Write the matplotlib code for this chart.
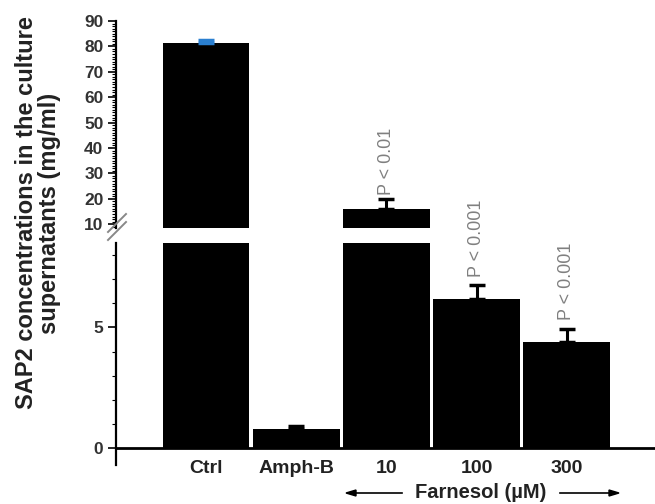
import matplotlib.pyplot as plt
import numpy as np

plt.rcParams["font.family"] = ["Liberation Sans", "DejaVu Sans"]

groups = ["Ctrl", "Amph-B", "10", "100", "300"]
means = [81.3, 0.8, 16.0, 6.2, 4.4]
errs = [1.2, 0.13, 4.0, 0.55, 0.55]
err_colors = ["#2a7fd0", "black", "black", "black", "black"]
pvals = ["", "", "P < 0.01", "P < 0.001", "P < 0.001"]

W, H = 655, 504
fig = plt.figure(figsize=(W / 100, H / 100), dpi=100)

def px_axes(x0, y_top, x1, y_bot):
    return fig.add_axes([x0 / W, 1 - y_bot / H, (x1 - x0) / W, (y_bot - y_top) / H])

ax_hi = px_axes(116, 21, 655, 227.5)
ax_lo = px_axes(116, 243, 655, 465)

x = np.arange(len(groups))
for ax in (ax_hi, ax_lo):
    ax.bar(x, means, width=0.96, color="black", zorder=2)
    ax.set_xlim(-1, 4.98)
    for s in ("top", "right", "bottom"):
        ax.spines[s].set_visible(False)
    ax.spines["left"].set_linewidth(1.6)
    ax.tick_params(axis="y", direction="out", length=6, width=1.2, labelsize=12.5, pad=3)
    ax.tick_params(axis="y", which="minor", direction="out", length=3, width=0.8)
    ax.set_xticks([])

ax_hi.set_ylim(8.7, 90)
ax_hi.set_yticks(np.arange(10, 91, 10))
ax_hi.set_yticks(np.arange(9, 91, 1), minor=True)
ax_lo.set_ylim(-0.7, 8.5)
ax_lo.set_yticks([0, 5])
ax_lo.set_yticks(np.arange(0, 9, 1), minor=True)
for ax in (ax_hi, ax_lo):
    for lab in ax.get_yticklabels():
        lab.set_fontweight("bold")
        lab.set_color("#333333")

# error bars (upper side only)
for i in range(len(groups)):
    target = ax_hi if means[i] > 8.5 else ax_lo
    target.errorbar(x[i], means[i], yerr=[[0], [errs[i]]], fmt="none",
                    ecolor=err_colors[i], elinewidth=2.2, capsize=6, capthick=2.5, zorder=3)
    if pvals[i]:
        target.text(x[i], means[i] + errs[i] + (1.5 if target is ax_hi else 0.35), pvals[i],
                    rotation=90, ha="center", va="bottom", color="#808080", fontsize=13)

# baseline
ax_lo.axhline(0, color="black", lw=2, zorder=4)

# axis break marks
for dy in (0, 8):
    fig.add_artist(plt.Line2D([108 / W, 126 / W], [1 - (240 + dy - 8) / H, 1 - (222 + dy - 8) / H],
                              color="#888888", lw=1.4))

# category labels
for i, g in enumerate(groups):
    ax_lo.text(x[i], -0.85, g, ha="center", va="center", fontsize=14, fontweight="bold",
               color="#222222", clip_on=False)

fig.text(481 / W, 1 - 493 / H, "Farnesol (µM)", ha="center", va="center",
         fontsize=14.5, fontweight="bold", color="#222222")
fig.add_artist(plt.Line2D([350 / W, 402 / W], [1 - 493 / H] * 2, color="black", lw=1.2))
fig.add_artist(plt.Line2D([560 / W, 615 / W], [1 - 493 / H] * 2, color="black", lw=1.2))
fig.patches.append(plt.Polygon([[346 / W, 1 - 493 / H], [356 / W, 1 - 490 / H], [356 / W, 1 - 496 / H]],
                               closed=True, color="black", transform=fig.transFigure, figure=fig))
fig.patches.append(plt.Polygon([[619 / W, 1 - 493 / H], [609 / W, 1 - 490 / H], [609 / W, 1 - 496 / H]],
                               closed=True, color="black", transform=fig.transFigure, figure=fig))

fig.text(38 / W, 1 - 213 / H, "SAP2 concentrations in the culture\nsupernatants (mg/ml)",
         rotation=90, ha="center", va="center", fontsize=17, fontweight="bold",
         color="#222222", linespacing=0.95)

fig.savefig("out.png", dpi=100)
